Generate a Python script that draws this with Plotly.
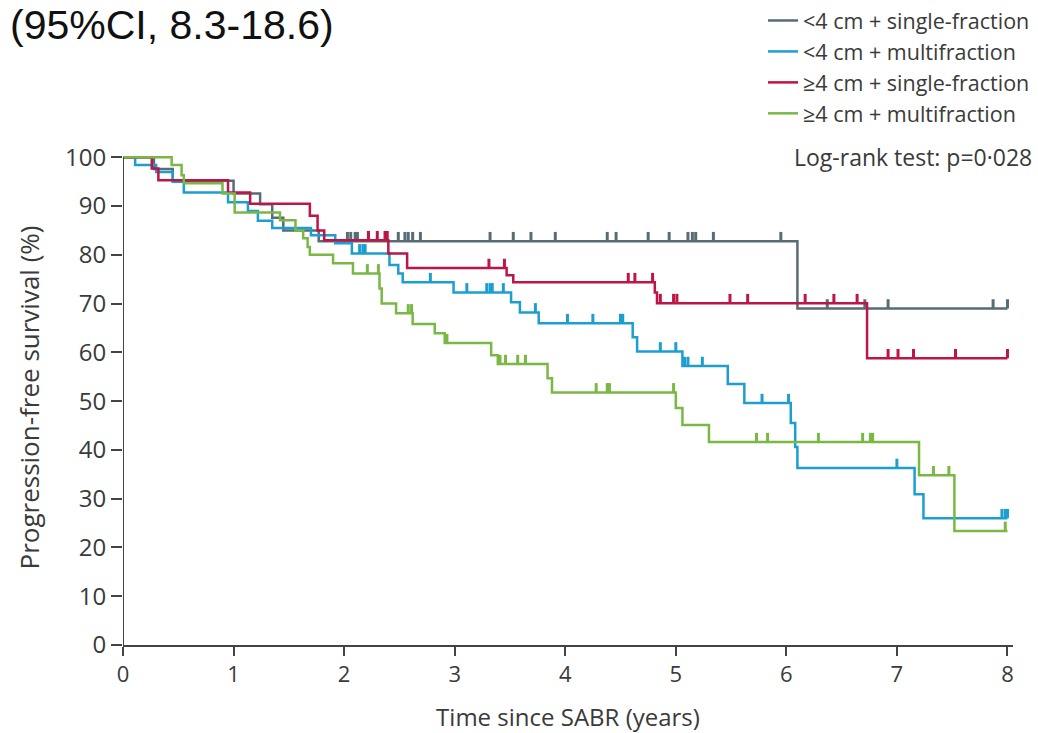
import numpy as np
import plotly.graph_objects as go

# ---------------- data ----------------
x_tick_vals = [0, 1, 2, 3, 4, 5, 6, 7, 8]
y_tick_vals = [0, 10, 20, 30, 40, 50, 60, 70, 80, 90, 100]

names = ["<4 cm + single-fraction", "<4 cm + multifraction",
         "≥4 cm + single-fraction", "≥4 cm + multifraction"]

# <4 cm + single-fraction
gray_t = [0, 0.28, 0.45, 1.0, 1.24, 1.35, 1.45, 1.77, 6.1, 8.0]
gray_s = [100, 97.6, 95.2, 92.6, 90.4, 87.6, 85.0, 82.8, 69.0, 69.0]
gray_c = [2.03, 2.06, 2.10, 2.12, 2.49, 2.55, 2.58, 2.62, 2.69, 3.32, 3.53, 3.69,
          3.91, 4.38, 4.46, 4.75, 4.94, 5.11, 5.15, 5.18, 5.34, 5.95, 6.37, 6.71,
          6.92, 7.87, 8.0]

# <4 cm + multifraction
blue_t = [0, 0.11, 0.30, 0.45, 0.55, 0.95, 1.13, 1.22, 1.35, 1.70, 1.92, 2.07,
          2.41, 2.49, 2.53, 2.99, 3.51, 3.59, 3.76, 4.61, 4.65, 5.06, 5.47, 5.62,
          6.04, 6.08, 6.10, 7.16, 7.24, 8.0]
blue_s = [100, 98.4, 97.0, 95.0, 92.8, 90.8, 89.0, 87.0, 85.5, 84.0, 82.4, 80.3,
          77.9, 76.2, 74.4, 72.3, 70.3, 68.2, 66.0, 63.1, 60.2, 57.2, 53.5, 49.6,
          45.5, 40.6, 36.3, 30.9, 26.0, 26.0]
blue_c = [2.14, 2.17, 2.19, 2.78, 3.11, 3.29, 3.32, 3.34, 3.44, 3.73, 4.02, 4.25,
          4.50, 4.52, 4.86, 5.00, 5.08, 5.11, 5.24, 5.78, 6.02, 7.00, 7.95, 7.98, 8.0]

# >=4 cm + single-fraction
red_t = [0, 0.26, 0.32, 0.95, 1.15, 1.69, 1.76, 1.82, 2.40, 2.57, 3.47, 3.53,
         4.81, 4.83, 6.73, 8.0]
red_s = [100, 97.7, 95.3, 92.8, 90.5, 88.0, 85.0, 83.0, 80.3, 77.3, 75.8, 74.4,
         72.3, 70.1, 58.8, 58.8]
red_c = [2.22, 2.30, 2.37, 2.39, 3.31, 3.45, 4.57, 4.63, 4.79, 4.86, 4.98, 5.01,
         5.49, 5.65, 6.17, 6.43, 6.64, 6.92, 7.01, 7.15, 7.53, 8.0]

# >=4 cm + multifraction
green_t = [0, 0.44, 0.53, 0.55, 0.90, 1.01, 1.42, 1.56, 1.63, 1.67, 1.69, 1.90,
           2.08, 2.32, 2.34, 2.47, 2.62, 2.82, 2.91, 3.33, 3.39, 3.84, 3.88, 5.00,
           5.06, 5.30, 7.20, 7.52, 8.0]
green_s = [100, 98.4, 96.3, 94.7, 92.6, 88.7, 87.1, 85.0, 83.4, 81.6, 80.0, 78.3,
           76.2, 73.1, 70.0, 68.0, 65.8, 63.9, 61.9, 59.4, 57.6, 54.7, 51.8, 48.6,
           45.1, 41.6, 34.8, 23.4, 23.4]
green_c = [2.21, 2.31, 2.58, 2.61, 2.93, 3.41, 3.46, 3.57, 3.64, 4.28, 4.38, 4.40,
           4.98, 5.73, 5.83, 6.29, 6.69, 6.76, 6.78, 7.33, 7.47, 7.98]

series = [
    (names[0], gray_t, gray_s, gray_c, "#586c76"),
    (names[1], blue_t, blue_s, blue_c, "#1c9fcf"),
    (names[2], red_t, red_s, red_c, "#bd1546"),
    (names[3], green_t, green_s, green_c, "#7ab845"),
]

TICK_H = 1.9
FONT = "Open Sans"
TXT = "#3a3a3a"

fig = go.Figure()
for i, (nm, t, s, c, col) in enumerate(series):
    t_arr = np.array(t)
    s_arr = np.array(s)
    cx, cy = [], []
    for tc in c:
        idx = np.searchsorted(t_arr, tc, side="right") - 1
        lv = s_arr[idx]
        cx += [tc, tc, None]
        cy += [lv, lv + TICK_H, None]
    fig.add_trace(go.Scatter(x=cx, y=cy, mode="lines", line=dict(color=col, width=3),
                             showlegend=False, legendgroup=f"g{i}", hoverinfo="skip"))
    fig.add_trace(go.Scatter(x=t, y=s, mode="lines", line=dict(color=col, width=2.5, shape="hv"),
                             name=nm, legendgroup=f"g{i}"))

W, H = 1038, 733
x0px, x8px = 123, 1007
y100px, y0px = 157, 645
xr = [0, 8.05]
yr = [0, 101.5]
pxx = (x8px - x0px) / 8.0
pxy = (y0px - y100px) / 100.0
l = x0px
r = W - (x0px + xr[1] * pxx)
b = H - y0px
t_m = y0px - yr[1] * pxy


def cx_(px):
    return px / W


def cy_(py):
    return 1 - py / H


fig.update_layout(
    template="none",
    width=W, height=H,
    margin=dict(l=l, r=r, t=t_m, b=b, pad=0, autoexpand=False),
    plot_bgcolor="white", paper_bgcolor="white",
    font=dict(family=FONT, color=TXT),
    showlegend=True,
    legend=dict(xref="container", yref="container", x=cx_(763), xanchor="left",
                y=cy_(-1), yanchor="top",
                font=dict(size=21.5, family=FONT, color=TXT), tracegroupgap=0,
                bgcolor="rgba(0,0,0,0)", traceorder="grouped", itemwidth=30, borderwidth=0),
    xaxis=dict(range=xr, tickmode="array", tickvals=x_tick_vals,
               ticktext=[str(v) for v in x_tick_vals], automargin=False,
               showline=True, linecolor="#444444", linewidth=2,
               ticks="outside", ticklen=9, tickwidth=2, tickcolor="#444444",
               showgrid=False, zeroline=False,
               tickfont=dict(size=22, family=FONT, color=TXT),
               title=dict(text="Time since SABR (years)", font=dict(size=24, family=FONT, color=TXT),
                          standoff=23)),
    yaxis=dict(range=yr, tickmode="array", tickvals=y_tick_vals,
               ticktext=[str(v) for v in y_tick_vals], automargin=False,
               showline=False,
               ticks="outside", ticklen=11, tickwidth=2, tickcolor="#444444",
               showgrid=False, zeroline=False,
               tickfont=dict(size=24, family=FONT, color=TXT),
               title=dict(text="Progression-free survival (%)", font=dict(size=26, family=FONT, color=TXT),
                          standoff=17)),
)

# y axis line from 0 to 100
fig.add_shape(type="line", xref="x", yref="y", x0=0, x1=0, y0=0, y1=100,
              line=dict(color="#444444", width=2))

fig.add_annotation(text="Log-rank test: p=0·028", xref="paper", yref="paper",
                   x=(1034 - l) / (W - l - r), y=(y0px - 157) / (H - t_m - b),
                   xanchor="right", yanchor="middle",
                   showarrow=False, font=dict(size=23, family=FONT, color=TXT))

fig.add_annotation(text="(95%CI, 8.3-18.6)", xref="paper", yref="paper",
                   x=(8 - l) / (W - l - r), y=(y0px - 25) / (H - t_m - b),
                   xanchor="left", yanchor="middle",
                   showarrow=False, font=dict(size=41, family="Liberation Sans", color="#111111"))

fig.write_html("out.html", config={"displayModeBar": False},
               post_script="document.body.style.margin='0px';document.body.style.overflow='hidden';")
